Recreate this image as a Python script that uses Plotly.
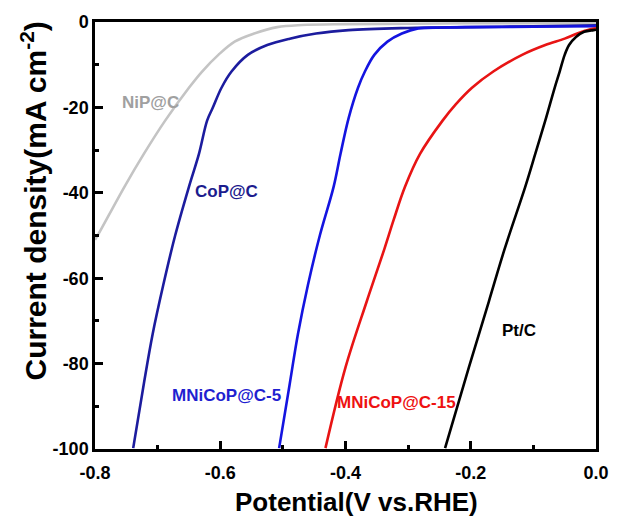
import plotly.graph_objects as go

# ---- data ----
nip_x = [-0.8, -0.795, -0.753, -0.722, -0.688, -0.650, -0.629, -0.603, -0.577, -0.546, -0.509, -0.47, -0.40, -0.30, -0.20, -0.10, 0.0]
nip_y = [-51.0, -49.8, -38.6, -30.9, -23.1, -15.4, -11.6, -7.7, -4.6, -2.7, -1.2, -0.7, -0.5, -0.4, -0.3, -0.3, -0.3]

cop_x = [-0.739, -0.722, -0.708, -0.691, -0.672, -0.650, -0.634, -0.621, -0.612, -0.598, -0.582, -0.556, -0.525, -0.489, -0.447, -0.395, -0.30, -0.20, -0.10, 0.0]
cop_y = [-99.8, -84.7, -73.1, -61.6, -50.0, -38.6, -30.9, -23.1, -20.1, -15.4, -11.6, -7.7, -5.4, -3.9, -2.7, -1.9, -1.4, -1.2, -1.0, -0.8]

m5_x = [-0.506, -0.489, -0.476, -0.460, -0.441, -0.419, -0.408, -0.395, -0.380, -0.369, -0.354, -0.333, -0.310, -0.284, -0.25, -0.2, -0.1, 0.0]
m5_y = [-99.8, -84.7, -73.1, -61.6, -50.0, -38.6, -30.9, -22.5, -15.4, -11.6, -7.7, -4.6, -2.7, -1.5, -1.3, -1.2, -1.1, -1.0]

m15_x = [-0.432, -0.400, -0.366, -0.338, -0.323, -0.305, -0.281, -0.245, -0.224, -0.198, -0.164, -0.118, -0.081, -0.050, -0.030, -0.009, 0.0]
m15_y = [-99.8, -80.9, -65.4, -53.2, -46.3, -38.6, -30.9, -23.1, -19.3, -15.4, -11.6, -7.7, -5.4, -3.9, -2.7, -1.7, -1.5]

pt_x = [-0.241, -0.203, -0.171, -0.146, -0.113, -0.097, -0.081, -0.066, -0.058, -0.050, -0.043, -0.032, -0.019, -0.004, 0.0]
pt_y = [-99.8, -80.9, -65.4, -53.2, -38.6, -30.9, -23.1, -15.4, -11.6, -7.7, -5.4, -3.5, -2.3, -1.9, -1.8]

series_names = ["NiP@C", "CoP@C", "MNiCoP@C-5", "MNiCoP@C-15", "Pt/C"]

x_tickvals = [-0.8, -0.6, -0.4, -0.2, 0.0]
x_ticktext = ["-0.8", "-0.6", "-0.4", "-0.2", "0.0"]
x_minor = [-0.7, -0.5, -0.3, -0.1]
y_tickvals = [0, -20, -40, -60, -80, -100]
y_ticktext = ["0", "-20", "-40", "-60", "-80", "-100"]
y_minor = [-10, -30, -50, -70, -90]

# label positions (data coords)
label_x = [-0.711, -0.590, -0.590, -0.319, -0.123]
label_y = [-18.8, -39.6, -87.5, -89.1, -72.2]

line_colors = ["#c4c4c4", "#1c1c9e", "#1414e0", "#e81414", "#000000"]
label_colors = ["#a0a0a0", "#1c1c8e", "#1f1fd0", "#ee1111", "#000000"]

FONT = "Liberation Sans, Arial, sans-serif"

fig = go.Figure()
for name, xs, ys, c in zip(series_names,
                           [nip_x, cop_x, m5_x, m15_x, pt_x],
                           [nip_y, cop_y, m5_y, m15_y, pt_y],
                           line_colors):
    fig.add_trace(go.Scatter(x=xs, y=ys, mode="lines", name=name,
                             line=dict(color=c, width=2.6, shape="spline", smoothing=1.0),
                             showlegend=False))

for name, lx, ly, c in zip(series_names, label_x, label_y, label_colors):
    fig.add_annotation(x=lx, y=ly, xref="x", yref="y", text=name, showarrow=False,
                       xanchor="center", yanchor="middle",
                       font=dict(family=FONT, size=17, color=c, weight="bold"))

# axis titles
fig.add_annotation(x=-0.1226, y=0.581, xref="paper", yref="paper", textangle=-90,
                   xanchor="center", yanchor="middle",
                   text="Current density(mA cm<sup>-2</sup>)", showarrow=False,
                   font=dict(family=FONT, size=30, color="black", weight="bold"))
fig.add_annotation(x=0.521, y=-0.125, xref="paper", yref="paper",
                   xanchor="center", yanchor="middle",
                   text="Potential(V vs.RHE)", showarrow=False,
                   font=dict(family=FONT, size=26, color="black", weight="bold"))

axis_common = dict(showline=True, linecolor="black", linewidth=2.5, mirror=True,
                   ticks="inside", ticklen=8, tickwidth=2.5, tickcolor="black",
                   showgrid=False, zeroline=False,
                   tickfont=dict(family=FONT, size=18, color="black", weight="bold"))

fig.update_xaxes(range=[-0.8, 0.0], tickmode="array", tickvals=x_tickvals, ticktext=x_ticktext,
                 minor=dict(tickmode="array", tickvals=x_minor, ticks="inside", ticklen=4,
                            tickwidth=2.5, tickcolor="black"),
                 ticklabelstandoff=6, **axis_common)
fig.update_yaxes(range=[-100, 0], tickmode="array", tickvals=y_tickvals, ticktext=y_ticktext,
                 minor=dict(tickmode="array", tickvals=y_minor, ticks="inside", ticklen=4,
                            tickwidth=2.5, tickcolor="black"),
                 **axis_common)

fig.update_layout(width=621, height=518, margin=dict(l=95, r=12, t=17, b=69),
                  plot_bgcolor="white", paper_bgcolor="white")

fig.write_html("out.html")
